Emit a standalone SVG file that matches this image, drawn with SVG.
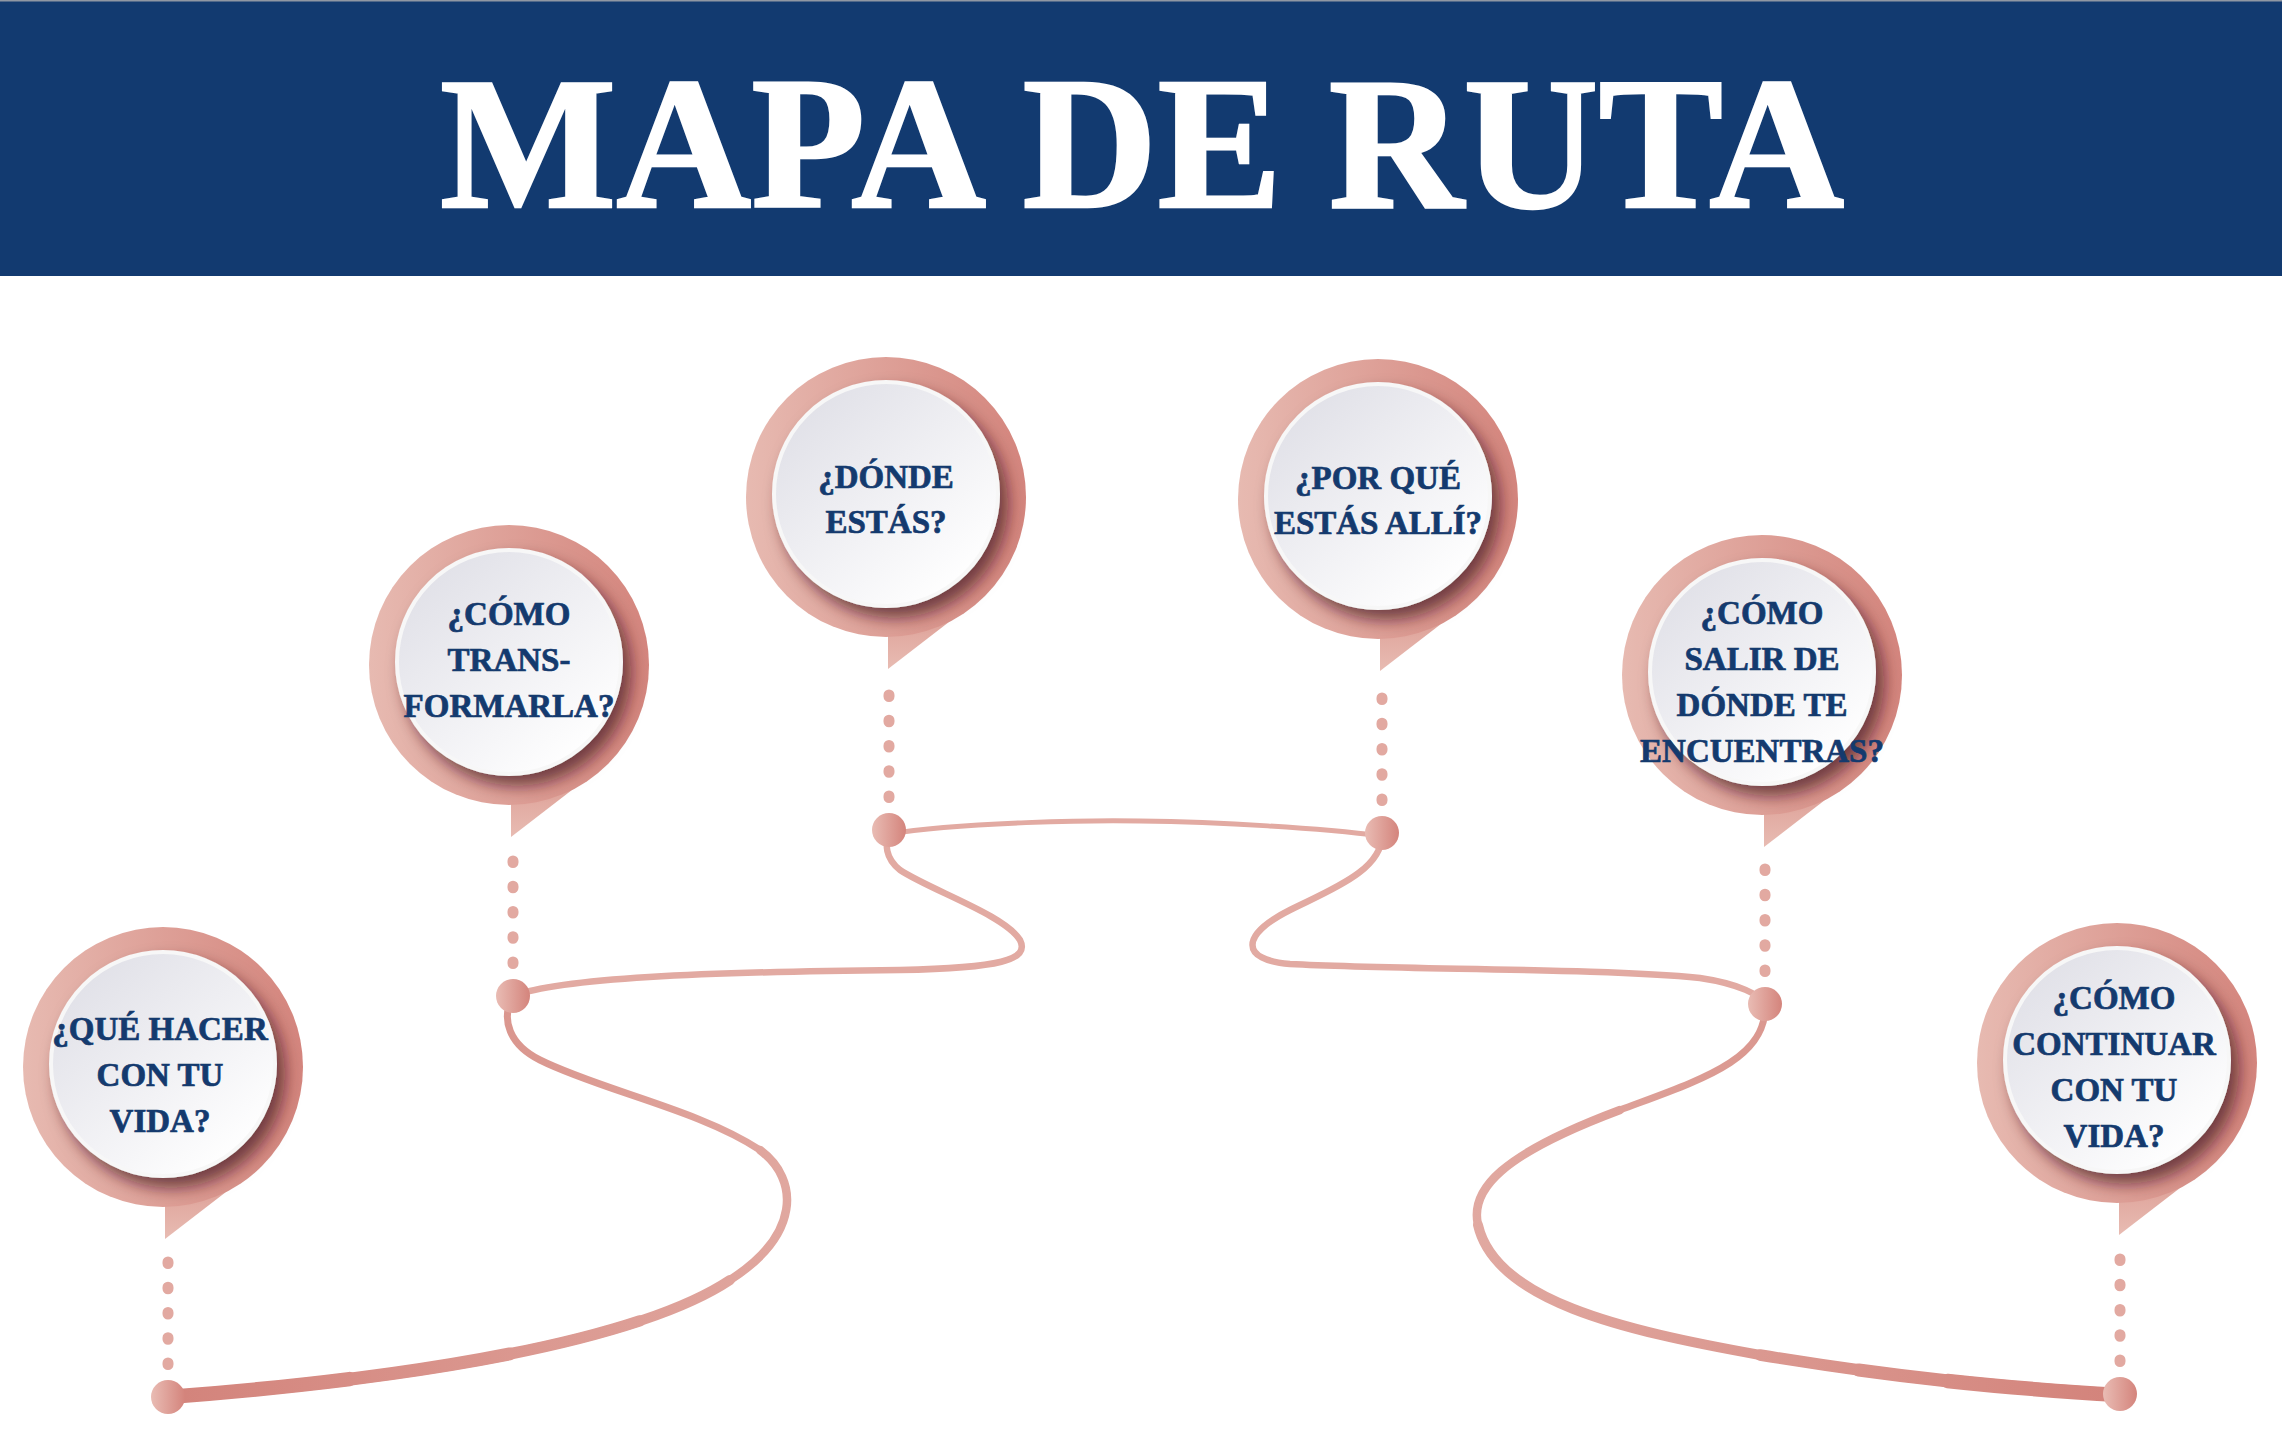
<svg xmlns="http://www.w3.org/2000/svg" width="2282" height="1440" viewBox="0 0 2282 1440">
<defs>
  <linearGradient id="ring" x1="0" y1="0" x2="1" y2="0">
    <stop offset="0" stop-color="#e7bab1"/>
    <stop offset="1" stop-color="#d4857d"/>
  </linearGradient>
  <linearGradient id="tail" x1="0" y1="0" x2="0" y2="1">
    <stop offset="0" stop-color="#dc9c93"/>
    <stop offset="1" stop-color="#e8bcb3"/>
  </linearGradient>
  <linearGradient id="face" x1="0.15" y1="0.1" x2="0.85" y2="0.9">
    <stop offset="0" stop-color="#e1e1e8"/>
    <stop offset="1" stop-color="#ffffff"/>
  </linearGradient>
  <linearGradient id="knob" x1="0" y1="0" x2="1" y2="0">
    <stop offset="0" stop-color="#e9bcb4"/>
    <stop offset="1" stop-color="#d4847c"/>
  </linearGradient>
  <linearGradient id="pathL" gradientUnits="userSpaceOnUse" x1="168" y1="0" x2="820" y2="0">
    <stop offset="0" stop-color="#d3837b"/>
    <stop offset="1" stop-color="#e1a9a1"/>
  </linearGradient>
  <linearGradient id="pathR" gradientUnits="userSpaceOnUse" x1="1470" y1="0" x2="2120" y2="0">
    <stop offset="0" stop-color="#e1a9a1"/>
    <stop offset="1" stop-color="#d3837b"/>
  </linearGradient>
  <filter id="sh" x="-30%" y="-30%" width="170%" height="170%">
    <feDropShadow dx="8" dy="10" stdDeviation="8" flood-color="#43161f" flood-opacity="0.68"/>
  </filter>
</defs>
<style>
  .ring{fill:url(#ring)}
  .tail{fill:url(#tail)}
  .face{fill:url(#face);stroke:#f7f7f7;stroke-width:4;filter:url(#sh)}
  .knob{fill:url(#knob)}
  .lead{stroke:#e2a9a1;stroke-width:11;stroke-linecap:round;stroke-dasharray:1.5 23.75}
  .lbl{font-family:"Liberation Serif","Times New Roman",serif;font-weight:bold;font-size:33px;fill:#143a6e;stroke:#143a6e;stroke-width:0.7px;text-anchor:middle}
  .ln{fill:none;stroke-linecap:round;stroke-linejoin:round}
  .thin{stroke:#e2aaa2}
  .pl{stroke:url(#pathL)}
  .pr{stroke:url(#pathR)}
</style>

<rect x="0" y="0" width="2282" height="276" fill="#123a70"/>
<rect x="0" y="0" width="2282" height="1.5" fill="#9097a3"/>
<text x="1142" y="207" textLength="1404" lengthAdjust="spacingAndGlyphs" font-family="'Liberation Serif','Times New Roman',serif" font-weight="bold" font-size="188" fill="#ffffff" stroke="#ffffff" stroke-width="2.5" text-anchor="middle">MAPA DE RUTA</text>

<g id="connectors">
  <path class="ln pl" stroke-width="7" d="M168,1397 C420,1378 640,1340 730,1280 C800,1235 800,1180 760,1150 C700,1110 600,1090 540,1060 C510,1045 500,1020 513,996"/>
  <path class="ln pl" stroke-width="8.5" d="M168,1397 C420,1378 640,1340 730,1280 C800,1235 800,1180 760,1150"/>
  <path class="ln pl" stroke-width="10" d="M168,1397 C420,1378 640,1340 730,1280"/>
  <path class="ln pl" stroke-width="11.5" d="M168,1397 C357,1382.75 528,1357.8 639.7,1320.9"/>
  <path class="ln pl" stroke-width="13" d="M168,1397 C294,1387.5 412,1373.25 509.75,1353.9"/>
  <path class="ln pl" stroke-width="14.5" d="M168,1397 C231,1392.25 292,1386.3 349.5,1379.1"/>
  <path class="ln thin" stroke-width="6.5" d="M513,996 C560,978 700,972 900,970 C1000,968 1030,960 1020,940 C1005,915 930,890 900,870 C885,858 885,845 889,830"/>
  <path class="ln thin" stroke-width="5" d="M889,834 C960,822 1100,820 1140,821 C1220,822 1320,828 1382,836"/>
  <path class="ln thin" stroke-width="6.5" d="M1382,833 C1384,870 1330,890 1290,910 C1240,935 1240,960 1290,964 C1400,970 1600,968 1700,978 C1740,984 1760,995 1765,1004"/>
  <path class="ln pr" stroke-width="7" d="M1765,1004 C1768,1060 1700,1080 1620,1110 C1500,1155 1470,1190 1478,1225 C1495,1300 1620,1330 1760,1355 C1900,1378 2000,1388 2120,1395"/>
  <path class="ln pr" stroke-width="8.5" d="M1620,1110 C1500,1155 1470,1190 1478,1225 C1495,1300 1620,1330 1760,1355 C1900,1378 2000,1388 2120,1395"/>
  <path class="ln pr" stroke-width="10" d="M1478,1225 C1495,1300 1620,1330 1760,1355 C1900,1378 2000,1388 2120,1395"/>
  <path class="ln pr" stroke-width="11.5" d="M1760,1355 C1900,1378 2000,1388 2120,1395"/>
  <path class="ln pr" stroke-width="13" d="M2120,1395 C2030,1389.75 1951.25,1382.8 1858.7,1370"/>
  <path class="ln pr" stroke-width="14.5" d="M2120,1395 C2060,1391.5 2005,1387.25 1947.5,1381"/>
</g>

<g id="node1">
  <polygon class="tail" points="165,1187 165,1239 248,1175"/>
  <circle class="ring" cx="163" cy="1067" r="140"/>
  <circle class="face" cx="163" cy="1064" r="112"/>
  <text class="lbl"><tspan x="160" y="1040">¿QUÉ HACER</tspan><tspan x="160" y="1086">CON TU</tspan><tspan x="160" y="1132">VIDA?</tspan></text>
  <line class="lead" x1="168" y1="1262" x2="168" y2="1366"/>
  <circle class="knob" cx="168" cy="1397" r="17"/>
</g>

<g id="node2">
  <polygon class="tail" points="511,785 511,837 594,773"/>
  <circle class="ring" cx="509" cy="665" r="140"/>
  <circle class="face" cx="509" cy="662" r="112"/>
  <text class="lbl"><tspan x="509" y="625">¿CÓMO</tspan><tspan x="509" y="671">TRANS-</tspan><tspan x="509" y="717">FORMARLA?</tspan></text>
  <line class="lead" x1="513" y1="861" x2="513" y2="965"/>
  <circle class="knob" cx="513" cy="996" r="17"/>
</g>

<g id="node3">
  <polygon class="tail" points="888,617 888,669 971,605"/>
  <circle class="ring" cx="886" cy="497" r="140"/>
  <circle class="face" cx="886" cy="494" r="112"/>
  <text class="lbl"><tspan x="886" y="488">¿DÓNDE</tspan><tspan x="886" y="533">ESTÁS?</tspan></text>
  <line class="lead" x1="889" y1="695" x2="889" y2="799"/>
  <circle class="knob" cx="889" cy="830" r="17"/>
</g>

<g id="node4">
  <polygon class="tail" points="1380,619 1380,671 1463,607"/>
  <circle class="ring" cx="1378" cy="499" r="140"/>
  <circle class="face" cx="1378" cy="496" r="112"/>
  <text class="lbl"><tspan x="1378" y="489">¿POR QUÉ</tspan><tspan x="1378" y="534">ESTÁS ALLÍ?</tspan></text>
  <line class="lead" x1="1382" y1="698" x2="1382" y2="802"/>
  <circle class="knob" cx="1382" cy="833" r="17"/>
</g>

<g id="node5">
  <polygon class="tail" points="1764,795 1764,847 1847,783"/>
  <circle class="ring" cx="1762" cy="675" r="140"/>
  <circle class="face" cx="1762" cy="672" r="112"/>
  <text class="lbl"><tspan x="1762" y="624">¿CÓMO</tspan><tspan x="1762" y="670">SALIR DE</tspan><tspan x="1762" y="716">DÓNDE TE</tspan><tspan x="1762" y="762">ENCUENTRAS?</tspan></text>
  <line class="lead" x1="1765" y1="869" x2="1765" y2="973"/>
  <circle class="knob" cx="1765" cy="1004" r="17"/>
</g>

<g id="node6">
  <polygon class="tail" points="2119,1183 2119,1235 2202,1171"/>
  <circle class="ring" cx="2117" cy="1063" r="140"/>
  <circle class="face" cx="2117" cy="1060" r="112"/>
  <text class="lbl"><tspan x="2114" y="1009">¿CÓMO</tspan><tspan x="2114" y="1055">CONTINUAR</tspan><tspan x="2114" y="1101">CON TU</tspan><tspan x="2114" y="1147">VIDA?</tspan></text>
  <line class="lead" x1="2120" y1="1259" x2="2120" y2="1363"/>
  <circle class="knob" cx="2120" cy="1394" r="17"/>
</g>
</svg>
